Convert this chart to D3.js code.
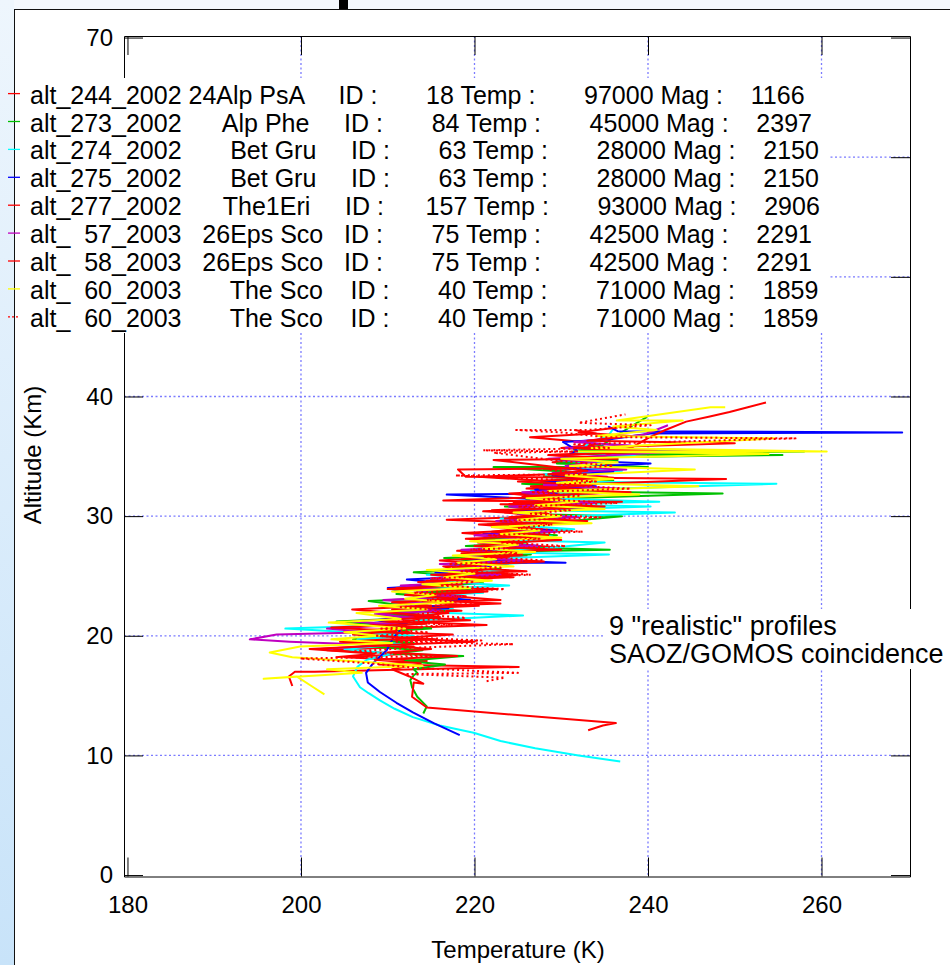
<!DOCTYPE html>
<html>
<head>
<meta charset="utf-8">
<script src="https://cdn.jsdelivr.net/npm/d3@7"></script>
<style>
body { margin: 0; background: #fff; }
svg { display: block; font-family: Arial, "Liberation Sans", sans-serif; }
</style>
</head>
<body>
<svg width="950" height="965"></svg>
<script>
// profiles: [temperature K, altitude km]
var alt244_2002 = [[199.0,15.8],[198.6,16.6],[199.3,17.0],[201.6,17.0],[225.1,17.4],[209.0,17.6],[214.5,17.9],[205.0,18.2],[212.5,18.5],[203.0,18.8],[213.0,19.1],[206.0,19.4],[215.5,19.7],[208.0,20.0],[212.5,20.3],[210.0,20.6],[221.4,20.9],[211.5,21.2],[216.0,21.5],[209.5,21.8],[218.5,22.1],[212.0,22.4],[223.0,22.7],[213.5,23.0],[219.0,23.3],[214.5,23.6],[222.5,23.9],[212.5,24.2],[220.0,24.5],[216.0,24.8],[225.0,25.1],[218.0,25.5],[216.4,25.8],[224.0,26.1],[218.5,26.4],[226.0,26.7],[219.5,27.0],[229.5,27.4],[220.4,27.8],[226.5,28.1],[221.5,28.4],[231.0,28.8],[222.0,29.1],[227.5,29.4],[216.8,29.7],[228.0,30.0],[223.5,30.3],[233.0,30.7],[224.0,31.0],[230.0,31.3],[225.5,31.6],[236.0,32.0],[226.0,32.3],[231.5,32.6],[227.0,33.0],[220.5,33.3],[233.0,33.6],[228.0,33.9],[237.5,34.2],[229.0,34.5],[235.0,34.8],[228.5,35.1],[239.0,35.4],[230.0,35.7],[234.5,36.0],[231.0,36.3],[226.4,36.6],[234.0,36.9],[231.5,37.2]];
var alt273_2002 = [[214.1,13.5],[214.5,14.1],[213.4,14.9],[212.8,15.7],[212.6,16.3],[213.0,16.7],[213.4,16.9],[213.0,17.2],[216.6,17.6],[212.0,17.9],[218.7,18.3],[210.5,18.5],[214.0,18.8],[208.0,19.1],[213.0,19.4],[206.0,19.7],[212.5,20.0],[207.5,20.3],[215.0,20.6],[204.1,21.2],[213.5,21.5],[209.0,21.8],[216.5,22.1],[207.8,22.9],[217.0,23.2],[211.0,23.5],[219.5,23.8],[213.5,24.1],[221.0,24.4],[215.0,24.7],[218.5,25.0],[213.0,25.3],[223.0,25.6],[217.5,25.9],[221.0,26.2],[216.5,26.5],[226.5,26.8],[220.0,27.0],[235.6,27.2],[219.0,27.5],[226.0,27.8],[221.0,28.1],[229.5,28.4],[223.0,28.7],[227.0,29.0],[221.5,29.3],[231.0,29.6],[237.0,30.0],[225.0,30.2],[229.5,30.5],[223.5,30.8],[233.0,31.1],[226.0,31.4],[248.6,31.9],[227.0,32.1],[232.5,32.4],[225.5,32.7],[236.0,33.0],[228.0,33.3],[233.0,33.6],[222.2,34.1],[240.0,34.1],[229.5,34.4],[236.5,34.7],[231.0,34.9],[255.5,35.1],[233.0,35.2],[258.0,35.4],[231.5,35.5],[234.7,35.9],[236.5,36.8],[238.5,37.7],[239.9,38.3]];
var alt274_2002 = [[236.8,9.5],[232.0,10.0],[227.0,10.6],[223.0,11.2],[219.9,11.9],[216.0,12.5],[212.9,13.2],[210.8,13.9],[209.1,14.6],[207.8,15.2],[206.8,15.7],[206.0,16.6],[206.5,17.4],[207.6,18.0],[210.5,18.5],[205.0,18.9],[211.5,19.3],[206.5,19.7],[213.0,20.0],[198.2,20.6],[211.0,20.9],[214.0,21.3],[225.6,21.7],[212.0,22.0],[217.5,22.3],[210.5,22.6],[219.0,23.0],[213.0,23.3],[221.0,23.6],[215.0,23.9],[224.0,24.2],[216.5,24.5],[220.5,24.8],[214.5,25.1],[223.5,25.4],[218.0,25.8],[226.0,26.1],[219.5,26.4],[235.5,26.8],[221.0,27.0],[228.0,27.3],[235.0,27.8],[222.5,28.0],[229.0,28.3],[224.0,28.6],[231.5,28.9],[225.5,29.2],[229.0,29.5],[223.0,29.8],[243.1,30.3],[226.5,30.5],[240.3,30.8],[227.0,31.0],[241.3,31.2],[228.0,31.5],[233.0,31.8],[226.5,32.1],[254.8,32.7],[229.5,32.9],[234.0,33.2],[228.0,33.5],[237.0,33.8],[230.5,34.1],[235.0,34.4],[229.5,34.7],[238.5,35.0],[231.5,35.4],[233.6,36.2],[235.5,36.8],[236.0,37.3]];
var alt275_2002 = [[218.3,11.7],[215.3,12.7],[212.9,13.6],[211.0,14.4],[209.1,15.3],[207.7,16.1],[207.5,16.9],[208.3,17.7],[209.9,18.8],[210.6,19.8],[212.2,21.0],[208.5,21.3],[215.0,21.6],[210.0,22.0],[217.0,22.3],[212.5,22.7],[219.5,23.0],[213.0,23.4],[210.0,24.0],[218.0,24.3],[212.2,24.7],[221.0,25.0],[215.5,25.3],[222.0,25.7],[220.6,26.1],[230.5,26.1],[219.0,26.4],[225.0,26.8],[220.0,27.1],[227.5,27.5],[222.0,27.8],[226.0,28.2],[221.0,28.5],[229.0,28.8],[223.5,29.1],[231.0,29.5],[224.5,29.8],[228.5,30.1],[222.5,30.4],[233.5,30.7],[226.0,31.0],[230.5,31.3],[216.8,31.8],[229.5,31.9],[227.0,32.2],[234.0,32.5],[228.0,32.8],[232.0,33.1],[229.0,33.4],[236.0,33.7],[230.0,34.0],[240.3,34.4],[229.9,34.7],[231.8,35.5],[230.2,36.2],[235.4,36.4],[240.3,36.9],[269.3,37.0],[236.5,37.1],[235.4,37.5]];
var alt277_2002 = [[233.1,12.1],[234.8,12.5],[236.3,12.7],[214.5,14.0],[212.8,14.9],[213.0,16.1],[214.1,16.0],[212.5,16.6],[210.5,17.2],[213.8,17.7],[208.5,18.0],[218.0,18.3],[210.0,18.6],[215.0,18.9],[209.0,19.2],[220.0,19.5],[211.0,19.8],[217.5,20.1],[205.0,20.4],[214.0,20.7],[208.0,21.0],[219.5,21.3],[212.5,21.6],[217.0,21.9],[210.5,22.2],[220.5,22.5],[214.0,22.8],[223.0,23.0],[215.5,23.4],[221.0,23.7],[211.0,24.0],[218.5,24.3],[214.5,24.6],[224.5,24.9],[217.0,25.2],[222.0,25.6],[219.0,25.9],[228.0,26.2],[220.0,26.5],[225.5,26.8],[218.0,27.1],[227.0,27.4],[221.5,27.7],[230.0,28.0],[218.6,28.6],[227.5,28.9],[222.0,29.2],[232.5,29.5],[223.5,29.8],[229.0,30.1],[221.0,30.4],[231.0,30.7],[223.0,31.0],[237.0,31.2],[216.4,31.3],[228.0,31.6],[224.0,31.9],[233.5,32.2],[226.5,32.5],[249.0,33.1],[219.0,33.3],[218.1,33.9],[230.5,34.0],[234.5,34.9],[236.5,35.4],[238.3,35.8],[240.2,36.6],[242.0,37.2],[244.4,37.9],[247.0,38.3],[249.4,38.7],[251.5,39.1],[253.6,39.5]];
var alt57_2003 = [[203.7,18.8],[202.2,18.9],[209.5,19.2],[198.7,19.5],[194.1,19.7],[197.2,20.1],[208.0,20.3],[203.0,20.6],[211.5,20.9],[206.0,21.2],[213.0,21.5],[208.5,21.8],[216.0,22.1],[210.5,22.4],[214.5,22.7],[209.5,23.0],[218.5,23.3],[213.0,23.6],[216.0,23.9],[211.5,24.2],[220.5,24.5],[215.0,24.8],[223.0,25.1],[217.0,25.4],[221.5,25.7],[216.0,26.0],[225.5,26.3],[219.0,26.6],[223.0,26.9],[218.5,27.2],[227.5,27.5],[221.0,27.8],[225.5,28.1],[220.0,28.4],[229.5,28.7],[223.5,29.0],[227.5,29.3],[222.5,29.6],[232.0,29.9],[225.0,30.2],[229.5,30.5],[224.0,30.8],[234.0,31.1],[226.5,31.4],[231.0,31.7],[225.5,32.0],[236.5,32.3],[228.0,32.6],[232.5,32.9],[235.3,33.3],[229.0,33.6],[237.5,33.9],[230.5,34.2],[234.0,34.5],[228.5,34.8],[246.0,35.5],[230.5,35.7],[238.0,35.9],[231.5,36.2],[239.5,36.8],[242.3,37.6]];
var alt58_2003 = [[204.0,18.2],[208.5,18.5],[201.0,18.9],[210.0,19.2],[204.5,19.5],[213.0,19.8],[206.0,20.1],[211.0,20.4],[203.5,20.7],[214.5,21.0],[209.0,21.3],[216.0,21.6],[205.9,22.2],[215.0,22.5],[210.5,22.8],[218.0,23.1],[212.0,23.4],[221.5,23.7],[210.0,23.9],[217.5,24.2],[213.5,24.5],[222.0,24.8],[215.0,25.1],[226.0,25.4],[217.5,25.7],[221.5,26.0],[216.0,26.3],[224.0,26.6],[218.5,26.9],[230.0,27.2],[220.0,27.5],[225.5,27.8],[219.0,28.1],[228.5,28.4],[222.0,28.7],[226.0,29.0],[220.5,29.3],[233.0,29.6],[224.0,29.9],[228.5,30.2],[222.0,30.5],[235.0,30.8],[224.5,31.1],[230.0,31.4],[226.0,31.7],[238.0,32.0],[227.5,32.3],[233.5,32.6],[225.0,32.9],[236.0,33.2],[228.5,33.5],[233.0,33.8],[222.2,34.7],[236.5,34.8],[229.0,35.1],[241.0,35.4],[231.5,35.7],[250.0,36.1],[233.0,36.3],[238.0,36.7],[232.0,37.0],[236.5,37.4]];
var alt60_2003 = [[202.7,15.1],[201.2,15.8],[199.5,16.6],[195.7,16.4],[207.0,16.9],[203.0,17.2],[214.0,17.5],[207.5,17.8],[199.0,18.2],[196.4,18.6],[199.9,19.1],[210.5,19.4],[203.5,19.7],[209.0,20.0],[205.0,20.3],[212.0,20.6],[203.2,21.1],[211.5,21.4],[206.4,21.9],[214.5,22.2],[209.0,22.5],[217.5,22.8],[212.0,23.1],[215.5,23.4],[210.5,23.7],[219.5,24.0],[214.0,24.3],[222.0,24.6],[216.5,24.9],[220.0,25.2],[214.5,25.5],[224.5,25.8],[218.0,26.1],[222.5,26.4],[217.5,26.7],[227.0,27.0],[221.0,27.3],[225.0,27.6],[219.5,27.9],[230.0,28.2],[223.0,28.5],[227.5,28.8],[222.0,29.1],[233.5,29.4],[225.0,29.7],[230.0,30.0],[224.5,30.3],[235.0,30.6],[227.0,30.9],[232.0,31.2],[226.0,31.5],[239.0,31.8],[228.5,32.1],[245.8,32.5],[229.5,32.8],[236.0,33.1],[230.5,33.4],[245.4,33.9],[231.0,34.2],[236.5,34.5],[230.0,34.8],[253.9,35.2],[232.0,35.4],[260.6,35.4],[233.5,35.7],[254.6,36.5],[234.0,36.7],[241.0,37.2],[236.0,37.5],[244.0,38.0],[236.4,38.0],[247.2,39.1],[248.9,39.1]];
var alt60_2003b = [[221.4,16.2],[223.5,16.5],[212.0,16.8],[225.0,16.9],[213.5,17.3],[208.0,17.7],[199.9,18.1],[215.0,18.3],[206.0,18.7],[213.0,19.0],[224.5,19.3],[211.0,19.5],[220.8,19.6],[208.5,20.0],[214.5,20.3],[209.0,20.6],[217.5,20.9],[211.0,21.2],[219.0,21.5],[213.5,21.8],[216.5,22.1],[211.5,22.4],[221.0,22.7],[214.5,23.0],[218.5,23.3],[213.0,23.6],[223.5,23.9],[216.0,24.2],[220.0,24.5],[215.0,24.8],[226.5,25.1],[218.5,25.4],[223.0,25.7],[217.0,26.0],[228.0,26.3],[221.0,26.6],[225.0,26.9],[219.5,27.2],[230.5,27.5],[223.0,27.8],[227.5,28.1],[221.5,28.4],[232.5,28.7],[225.0,29.0],[229.0,29.3],[223.0,29.6],[234.5,29.9],[226.5,30.2],[231.0,30.5],[225.0,30.8],[236.5,31.1],[228.0,31.4],[232.0,31.7],[226.5,32.0],[238.0,32.3],[229.5,32.6],[234.0,32.9],[217.8,33.4],[233.0,33.5],[228.5,33.9],[236.0,34.2],[230.0,34.6],[222.2,35.3],[232.0,35.4],[221.0,35.5],[235.5,35.7],[231.5,36.0],[257.0,36.5],[235.0,36.6],[230.0,37.0],[224.8,37.2],[233.0,37.2],[240.3,37.6],[232.0,37.8],[237.4,38.5]];

var profiles = [alt244_2002, alt273_2002, alt274_2002, alt275_2002, alt277_2002, alt57_2003, alt58_2003, alt60_2003, alt60_2003b];
var colors = ['#ff0000', '#00c000', '#00ffff', '#0000ff', '#ff0000', '#c000c0', '#ff0000', '#ffff00', '#ff0000'];
var dotted = [false, false, false, false, false, false, false, false, true];

var legendLabels = [
  'alt_244_2002 24Alp PsA     ID :       18 Temp :       97000 Mag :    1166',
  'alt_273_2002      Alp Phe     ID :       84 Temp :       45000 Mag :    2397',
  'alt_274_2002       Bet Gru     ID :       63 Temp :       28000 Mag :    2150',
  'alt_275_2002       Bet Gru     ID :       63 Temp :       28000 Mag :    2150',
  'alt_277_2002      The1Eri     ID :      157 Temp :       93000 Mag :    2906',
  'alt_  57_2003   26Eps Sco   ID :       75 Temp :       42500 Mag :    2291',
  'alt_  58_2003   26Eps Sco   ID :       75 Temp :       42500 Mag :    2291',
  'alt_  60_2003       The Sco    ID :       40 Temp :       71000 Mag :    1859',
  'alt_  60_2003       The Sco    ID :       40 Temp :       71000 Mag :    1859'
];

var xTicks = [180, 200, 220, 240, 260];
var yTicks = [0, 10, 20, 30, 40, 50, 60, 70];
var yHiddenLabels = [50, 60]; // sit under the legend box
var xGrid = [200, 220, 240, 260];
var yGrid = [10, 20, 30, 40, 50, 60];
var note = ['9 "realistic" profiles', 'SAOZ/GOMOS coincidence'];

var svg = d3.select('svg');
var x = d3.scaleLinear().domain([179.6, 270.2]).range([124, 910]);
var y = d3.scaleLinear().domain([-0.12, 70.13]).range([876.5, 36]);

// page background pieces
var grad = svg.append('defs').append('linearGradient')
  .attr('id', 'band').attr('x1', 0).attr('y1', 0).attr('x2', 0).attr('y2', 1);
grad.append('stop').attr('offset', '0%').attr('stop-color', '#eef6fd');
grad.append('stop').attr('offset', '100%').attr('stop-color', '#c8e3f9');
svg.append('rect').attr('width', 950).attr('height', 965).attr('fill', '#fff');
svg.append('rect').attr('width', 950).attr('height', 9).attr('fill', '#f4f8fd');
svg.append('rect').attr('width', 14).attr('height', 965).attr('fill', 'url(#band)');
svg.append('rect').attr('x', 339).attr('y', 0).attr('width', 9).attr('height', 10).attr('fill', '#000');
svg.append('line').attr('x1', 14).attr('x2', 950).attr('y1', 9.5).attr('y2', 9.5).attr('stroke', '#111');
svg.append('line').attr('x1', 14.5).attr('x2', 14.5).attr('y1', 9).attr('y2', 965).attr('stroke', '#111');

// grid
var grid = svg.append('g').attr('stroke', '#7b7bff').attr('stroke-width', 1.3).attr('stroke-dasharray', '2,2.5');
grid.selectAll('.gx').data(xGrid).enter().append('line')
  .attr('x1', function (d) { return x(d); }).attr('x2', function (d) { return x(d); })
  .attr('y1', y.range()[1]).attr('y2', y.range()[0]);
grid.selectAll('.gy').data(yGrid).enter().append('line')
  .attr('y1', function (d) { return y(d); }).attr('y2', function (d) { return y(d); })
  .attr('x1', x.range()[0]).attr('x2', x.range()[1]);

// profiles
var line = d3.line().x(function (d) { return x(d[0]); }).y(function (d) { return y(d[1]); });
svg.append('g').selectAll('path').data(profiles).enter().append('path')
  .attr('d', line)
  .attr('fill', 'none')
  .attr('stroke', function (d, i) { return colors[i]; })
  .attr('stroke-width', 2)
  .attr('stroke-linejoin', 'round')
  .attr('stroke-dasharray', function (d, i) { return dotted[i] ? '2,3' : null; });

// axes, ticks inside
function styleAxis(g) {
  g.selectAll('path, line').attr('stroke', '#000');
  g.selectAll('text').attr('fill', '#000').style('font-size', '24px').style('font-family', 'Arial, "Liberation Sans", sans-serif');
}
svg.append('g').attr('transform', 'translate(0,' + y.range()[0] + ')')
  .call(d3.axisBottom(x).tickValues(xTicks).tickSizeInner(-19).tickSizeOuter(0).tickPadding(19))
  .call(styleAxis);
svg.append('g').attr('transform', 'translate(0,' + y.range()[1] + ')')
  .call(d3.axisTop(x).tickValues(xTicks).tickSizeInner(-19).tickSizeOuter(0).tickFormat(''))
  .call(styleAxis);
svg.append('g').attr('transform', 'translate(' + x.range()[0] + ',0)')
  .call(d3.axisLeft(y).tickValues(yTicks).tickSizeInner(-19).tickSizeOuter(0).tickPadding(11)
    .tickFormat(function (d) { return yHiddenLabels.indexOf(d) >= 0 ? '' : d; }))
  .call(styleAxis);
svg.append('g').attr('transform', 'translate(' + x.range()[1] + ',0)')
  .call(d3.axisRight(y).tickValues(yTicks).tickSizeInner(-19).tickSizeOuter(0).tickFormat(''))
  .call(styleAxis);
svg.selectAll('.domain').attr('stroke-width', 1);

// axis titles
svg.append('text').attr('x', 518).attr('y', 958).attr('text-anchor', 'middle')
  .style('font-size', '24px').text('Temperature (K)');
svg.append('text').attr('transform', 'translate(41,455) rotate(-90)').attr('text-anchor', 'middle')
  .style('font-size', '24px').text('Altitude (Km)');

// legend
svg.append('rect').attr('x', 15).attr('y', 78).attr('width', 813).attr('height', 255).attr('fill', '#fff');
var leg = svg.append('g').selectAll('g').data(legendLabels).enter().append('g')
  .attr('transform', function (d, i) { return 'translate(0,' + (103.6 + i * 27.9) + ')'; });
leg.append('line').attr('x1', 8).attr('x2', 20).attr('y1', -10).attr('y2', -10)
  .attr('stroke', function (d, i) { return colors[i]; })
  .attr('stroke-width', 1.3)
  .attr('stroke-dasharray', function (d, i) { return dotted[i] ? '2,2' : null; });
leg.append('text').attr('x', 30).attr('y', 0)
  .attr('xml:space', 'preserve').style('white-space', 'pre')
  .style('font-size', '25px').text(function (d) { return d; });

// annotation
svg.append('rect').attr('x', 603).attr('y', 609).attr('width', 347).attr('height', 60).attr('fill', '#fff');
svg.append('g').selectAll('text').data(note).enter().append('text')
  .attr('x', 609).attr('y', function (d, i) { return 635 + i * 28.3; })
  .style('font-size', '27px').text(function (d) { return d; });
</script>
</body>
</html>
